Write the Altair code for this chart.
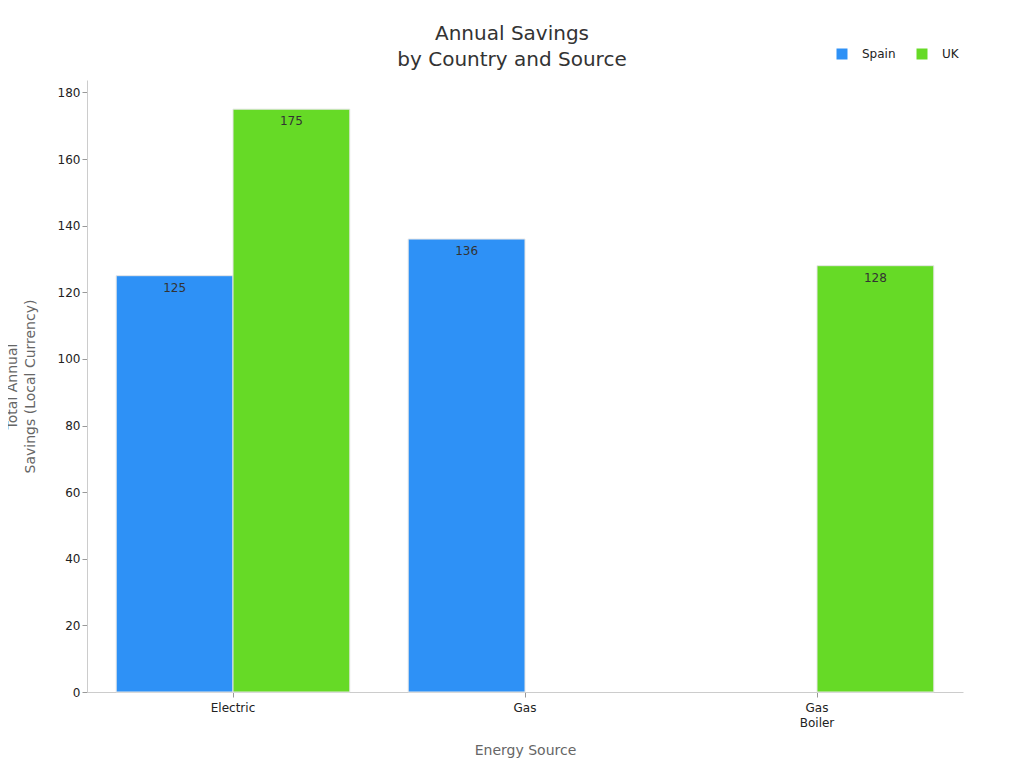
import altair as alt
import pandas as pd

sources = ["Electric", "Gas", "Electric", "Gas Boiler"]
countries = ["Spain", "Spain", "UK", "UK"]
savings = [125, 136, 175, 128]
source_order = ["Electric", "Gas", "Gas Boiler"]
country_order = ["Spain", "UK"]
colors = ["#2E91F6", "#66DA26"]

df = pd.DataFrame({"source": sources, "country": countries, "savings": savings})

FONT = "DejaVu Sans"

x = alt.X("source:N", sort=source_order, title="Energy Source",
          scale=alt.Scale(paddingInner=0.2, paddingOuter=0.1),
          axis=alt.Axis(labelAngle=0, labelExpr="split(datum.label, ' ')",
                        labelFontSize=12, labelColor="#222", titleColor="#666",
                        titleFontSize=14, titleFontWeight="normal", titlePadding=15,
                        domainColor="#ccc", tickColor="#999", labelPadding=5,
                        labelLineHeight=15))
xo = alt.XOffset("country:N", sort=country_order)
y = alt.Y("savings:Q", title=["Total Annual", "Savings (Local Currency)"],
          scale=alt.Scale(domain=[0, 183.75], nice=False),
          axis=alt.Axis(values=list(range(0, 181, 20)), grid=False,
                        labelFontSize=12, labelColor="#222", titleColor="#666",
                        titleFontSize=14, titleFontWeight="normal", titlePadding=20,
                        titleLineHeight=18,
                        domainColor="#ccc", tickColor="#999"))

bars = alt.Chart(df).mark_bar(stroke="#e6e6e6", strokeWidth=1).encode(
    x=x, xOffset=xo, y=y,
    color=alt.Color("country:N", sort=country_order,
                    scale=alt.Scale(domain=country_order, range=colors),
                    legend=alt.Legend(title=None, orient="none", direction="horizontal",
                                      legendX=749, legendY=-32, symbolType="square",
                                      symbolSize=121, labelFontSize=12, labelColor="#222",
                                      columnPadding=20, labelOffset=14,
                                      symbolStrokeWidth=0)),
)

labels = alt.Chart(df).mark_text(baseline="top", dy=7, fontSize=12, color="#333", font=FONT).encode(
    x=x, xOffset=xo, y=y, text=alt.Text("savings:Q"),
)

chart = (bars + labels).properties(
    width=876, height=612,
    autosize=alt.AutoSizeParams(type="none"),
    padding={"left": 79, "top": 72, "right": 50, "bottom": 70},
    title=alt.Title(["Annual Savings", "by Country and Source"], fontSize=20,
                    lineHeight=26, dx=-13,
                    fontWeight="normal", color="#333", anchor="middle", offset=-22),
).configure(font=FONT).configure_view(stroke=None)

chart.save("out.html", embed_options={"renderer": "svg", "actions": False})
